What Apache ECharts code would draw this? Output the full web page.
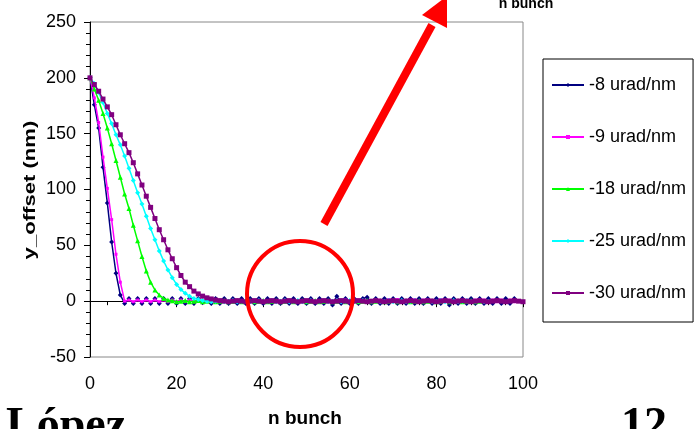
<!DOCTYPE html>
<html><head><meta charset="utf-8">
<script src="https://cdn.jsdelivr.net/npm/echarts@6/dist/echarts.min.js"></script>
<style>html,body{margin:0;padding:0;background:#fff}#c{width:698px;height:429px}</style>
</head><body><div id="c"></div>
<script>
var seriesNames = ['-8 urad/nm', '-9 urad/nm', '-18 urad/nm', '-25 urad/nm', '-30 urad/nm'];
var s8 = [200,176,155,120,88,53,25,5.5,-2,
  2.5,-2,2.5,-2,2.5,-2,2.5,-2,2.5,-2,
  2.5,-2,2.5,-2,2.5,-2,2.5,-1.5,2.5,-2,
  2.5,-2,2.5,-2,2.5,-2,2.5,-2,2.5,-2,
  2.5,-2,2.5,-2,2.5,-2,2.5,-2,2.5,-2,
  2.5,-2,2.5,-2,2.5,-2,2.5,-3.5,4.5,-2,
  2.5,-2,2.5,-2,2.5,3.5,-2,2.5,-2,2.5,
  -2,2.5,-2,2.5,-2,2.5,-2,2.5,-2,2.5,
  -2,2.5,-2,2.5,-3.5,2.5,-2,2.5,-2,2.5,
  -2,2.5,-2,2.5,-2,2.5,-2,2.5,-2,2.5];
var s9 = [200,182,160,129,101,73,42,17,0,
  1,-0.5,1,-0.5,1,-0.5,1,-0.5,1,-0.5,
  1,-0.5,1,-0.5,1,-0.5,1,-0.5,1,-0.5,
  0.5,-0.5,0.5,-0.5,0.5,-0.5,0.5,-0.5,0.5,-0.5,
  0.5,-0.5,0.5,-0.5,0.5,-0.5,0.5,-0.5,0.5,-0.5,
  0.5,-0.5,0.5,-0.5,0.5,-0.5,0.5,-0.5,0.5,-0.5,
  1,-0.5,1,-0.5,0.5,-0.5,0.5,-0.5,1,-0.5,
  1.5,-0.5,1.5,-0.5,1,-0.5,1.5,-0.5,1,-0.5,
  1,-0.5,1.5,-0.5,1,-0.5,1,-0.5,1,-0.5,
  1,-0.5,1,-0.5,1,-0.5,1,-0.5,1,-0.5];
var s18 = [200,190,180,168,155,141,126,111,96,83,68,54,40,27,17,10,5.5,2.5,1,0.3,
  -0.5,0,0.5,-0.5,0,0.5,-0.5,0,0.5,-0.5,
  0,0.5,-0.5,0,0.5,-0.5,0,0.5,-0.5,0,
  0.5,-0.5,0,0.5,-0.5,0,0.5,-0.5,0,0.5,
  -0.5,0,0.5,-0.5,0,0.5,-0.5,0,0.5,-0.5,
  0,0.5,-0.5,0,0.5,-0.5,0,0.5,-0.5,0,
  0.5,-0.5,0,0.5,-0.5,0,0.5,-0.5,0,0.5,
  -0.5,0,0.5,-0.5,0,0.5,-0.5,0,0.5,-0.5,0];
var s25 = [200,195,187,178,168,159,149,140,130,119,108,97,87,76,65,55,45,36,28,21,15,10.5,7,4.5,2.5,1.5,0.5,0,
  -0.5,0,0.5,-0.5,0,0.5,-0.5,0,0.5,-0.5,0,0.5,
  -0.5,0,0.5,-0.5,0,0.5,-0.5,0,0.5,-0.5,0,0.5,
  -0.5,0,0.5,-0.5,0,0.5,-0.5,0,0.5,-0.5,0,0.5,
  -0.5,0,0.5,-0.5,0,0.5,-0.5,0,0.5,-0.5,0,0.5,
  -0.5,0,0.5,-0.5,0,0.5,-0.5,0,0.5,-0.5,0,0.5,
  -0.5,0,0.5,-0.5,0];
var s30 = [200,194,188,181,174,167,158,149,141,133,124,114,104,94,84,74,64,55,46,38,30,23,17,13,9,6.5,4.5,3,2,1,0.5,
  0,-0.5,0,0.5,0,-0.5,0,0.5,0,-0.5,0,0.5,0,-0.5,
  0,0.5,0,-0.5,0,0.5,0,-0.5,0,0.5,0,-0.5,0,0.5,0,
  -0.5,0,0.5,0,-0.5,0,0.5,0,-0.5,0,0.5,0,-0.5,0,0.5,
  0,-0.5,0,0.5,0,-0.5,0,0.5,0,-0.5,0,0.5,0,-0.5,0,
  0.5,0,-0.5,0,0.5,0,-0.5,0,0.5,0,-0.5];
var colors = ['#000080', '#FF00FF', '#00FF00', '#00FFFF', '#800080'];
var symbols = ['diamond', 'rect', 'triangle', 'diamond', 'rect'];
var symbolSizes = [5, 3, 5, 5, 5];
var allValues = [s8, s9, s18, s25, s30];
var yTicks = [-50, 0, 50, 100, 150, 200, 250];
var xTicks = [0, 20, 40, 60, 80, 100];

function pairs(arr) { var out = []; for (var i = 0; i < arr.length && i <= 100; i++) out.push([i, arr[i]]); return out; }

var chart = echarts.init(document.getElementById('c'), null, {renderer: 'canvas'});
var font = '"Liberation Sans", Arial, sans-serif';
var series = allValues.map(function (vals, k) {
  return {
    name: seriesNames[k], type: 'line', data: pairs(vals),
    symbol: symbols[k], symbolSize: symbolSizes[k], showSymbol: true,
    lineStyle: {color: colors[k], width: 1.5},
    itemStyle: {color: colors[k]},
    animation: false, z: 2 + k
  };
});
chart.setOption({
  animation: false,
  grid: {left: 90, right: 175, top: 22, bottom: 72, show: true, borderColor: '#888', borderWidth: 1},
  xAxis: {type: 'value', min: xTicks[0], max: xTicks[xTicks.length - 1], interval: 20,
    axisLine: {lineStyle: {color: '#000', width: 1}}, axisTick: {length: 6, lineStyle: {color: '#000'}},
    minorTick: {show: true, splitNumber: 5, length: 4, lineStyle: {color: '#000'}},
    splitLine: {show: false}, minorSplitLine: {show: false},
    axisLabel: {color: '#000', fontSize: 18, fontFamily: font, margin: 18}},
  yAxis: {type: 'value', min: yTicks[0], max: yTicks[yTicks.length - 1], interval: 50,
    axisLine: {show: true, lineStyle: {color: '#000', width: 1}}, axisTick: {show: true, length: 6, lineStyle: {color: '#000'}},
    minorTick: {show: true, splitNumber: 5, length: 4, lineStyle: {color: '#000'}},
    splitLine: {show: false}, minorSplitLine: {show: false},
    axisLabel: {color: '#000', fontSize: 18, fontFamily: font, margin: 14}},
  legend: {orient: 'vertical', left: 543, top: 59, itemWidth: 32, itemHeight: 5, itemGap: 34,
    padding: [17, 7, 20, 8], borderColor: '#000', borderWidth: 1,
    textStyle: {color: '#000', fontSize: 18, fontFamily: font},
    data: seriesNames},
  series: series,
  graphic: [
    {type: 'text', x: 30, y: 190, rotation: Math.PI / 2, scaleX: 1.3,
      style: {text: 'y_offset (nm)', font: 'bold 17px ' + font, fill: '#000', textAlign: 'center', textVerticalAlign: 'middle'}},
    {type: 'text', x: 305, y: 419,
      style: {text: 'n bunch', font: 'bold 19px ' + font, fill: '#000', textAlign: 'center', textVerticalAlign: 'middle'}},
    {type: 'text', x: 526, y: 4,
      style: {text: 'n bunch', font: 'bold 14px ' + font, fill: '#000', textAlign: 'center', textVerticalAlign: 'middle'}},
    {type: 'text', x: 6, y: 404,
      style: {text: 'López', font: 'bold 46px "Liberation Serif", "Times New Roman", serif', fill: '#000', textAlign: 'left', textVerticalAlign: 'top'}},
    {type: 'text', x: 667, y: 404,
      style: {text: '12', font: 'bold 46px "Liberation Serif", "Times New Roman", serif', fill: '#000', textAlign: 'right', textVerticalAlign: 'top'}},
    {type: 'circle', shape: {cx: 300, cy: 294, r: 53}, style: {fill: 'none', stroke: '#FF0000', lineWidth: 4}, z: 100},
    {type: 'line', shape: {x1: 324, y1: 224, x2: 432, y2: 25}, style: {stroke: '#FF0000', lineWidth: 8}, z: 100},
    {type: 'polygon', shape: {points: [[422, 15], [447, 28], [447, -4]]}, style: {fill: '#FF0000'}, z: 100}
  ]
});
</script></body></html>
